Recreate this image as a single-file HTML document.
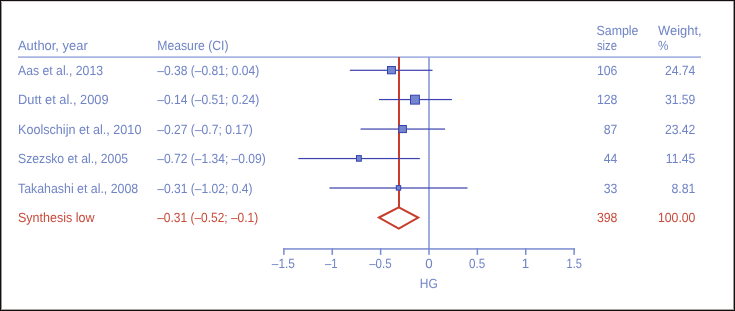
<!DOCTYPE html>
<html><head><meta charset="utf-8">
<style>
html,body{margin:0;padding:0;background:#fff;}
body{width:735px;height:311px;overflow:hidden;position:relative;}
svg{position:absolute;left:0;top:0;display:block;}
text{font-family:"Liberation Sans",Arial,sans-serif;font-size:13.3px;fill:#7084c6;text-rendering:geometricPrecision;}
text.r{fill:#c84b3b;}
</style></head>
<body>
<svg width="735" height="311" viewBox="0 0 735 311">
<rect x="0" y="0" width="735" height="311" fill="#fff"/>
<g shape-rendering="crispEdges">
<rect x="1" y="1" width="1" height="309" fill="#9a9797"/>
<rect x="0" y="1" width="735" height="1" fill="#d6d4d4"/>
<rect x="733" y="0" width="1" height="311" fill="#9c9898"/>
<rect x="0" y="309" width="735" height="1" fill="#a8a5a5"/>
<rect x="0" y="0" width="735" height="1" fill="#141010"/>
<rect x="0" y="0" width="1" height="311" fill="#141010"/>
<rect x="734" y="0" width="1" height="311" fill="#141010"/>
<rect x="0" y="310" width="735" height="1" fill="#141010"/>
</g>
<rect x="18" y="56.3" width="683" height="1.6" fill="#a2afe0"/>
<rect x="428.20" y="57" width="1.6" height="192" fill="#8799d6"/>
<rect x="398" y="57" width="2" height="150" fill="#ca3d2b"/>
<rect x="283.15" y="248.2" width="291.69" height="1.5" fill="#7a8cd0"/>
<g fill="#7a8cd0">
<rect x="283.15" y="248.2" width="1.5" height="6.7"/>
<rect x="331.52" y="248.2" width="1.5" height="6.7"/>
<rect x="379.88" y="248.2" width="1.5" height="6.7"/>
<rect x="428.25" y="248.2" width="1.5" height="6.7"/>
<rect x="476.62" y="248.2" width="1.5" height="6.7"/>
<rect x="524.98" y="248.2" width="1.5" height="6.7"/>
<rect x="573.35" y="248.2" width="1.5" height="6.7"/>
</g>
<g fill="#3b41ad">
<rect x="349.87" y="69.70" width="82.62" height="1.2"/>
<rect x="379.03" y="98.95" width="72.90" height="1.2"/>
<rect x="360.56" y="128.45" width="84.56" height="1.2"/>
<rect x="298.35" y="157.95" width="121.50" height="1.2"/>
<rect x="329.46" y="187.40" width="138.02" height="1.2"/>
</g>
<g fill="#7487ce" stroke="#3541b0" stroke-width="1">
<rect x="387.50" y="66.50" width="7.90" height="7.30"/>
<rect x="410.50" y="95.20" width="8.90" height="8.90"/>
<rect x="398.90" y="125.50" width="7.50" height="7.10"/>
<rect x="356.50" y="155.60" width="4.80" height="5.60"/>
<rect x="396.30" y="185.60" width="4.40" height="4.50"/>
</g>
<polygon points="379,217.5 398.8,207.4 418.2,217.5 398.8,228.5" fill="none" stroke="#c83c2c" stroke-width="2"/>
<text x="18" y="50" textLength="69.7" lengthAdjust="spacingAndGlyphs">Author, year</text>
<text x="157.2" y="50" textLength="71.4" lengthAdjust="spacingAndGlyphs">Measure (CI)</text>
<text x="596.5" y="35.3" textLength="42" lengthAdjust="spacingAndGlyphs">Sample</text>
<text x="597" y="49.5" textLength="20" lengthAdjust="spacingAndGlyphs">size</text>
<text x="658" y="35.3" textLength="43.6" lengthAdjust="spacingAndGlyphs">Weight,</text>
<text x="658" y="49.5" textLength="10.4" lengthAdjust="spacingAndGlyphs">%</text>
<text x="18" y="74.7" textLength="85" lengthAdjust="spacingAndGlyphs">Aas et al., 2013</text>
<text x="157.2" y="74.7" textLength="102.0" lengthAdjust="spacingAndGlyphs">–0.38 (–0.81; 0.04)</text>
<text x="617.4" y="74.7" text-anchor="end" textLength="20.5" lengthAdjust="spacingAndGlyphs">106</text>
<text x="695.4" y="74.7" text-anchor="end" textLength="30.5" lengthAdjust="spacingAndGlyphs">24.74</text>
<text x="18" y="104.1" textLength="90.6" lengthAdjust="spacingAndGlyphs">Dutt et al., 2009</text>
<text x="157.2" y="104.1" textLength="102.0" lengthAdjust="spacingAndGlyphs">–0.14 (–0.51; 0.24)</text>
<text x="617.4" y="104.1" text-anchor="end" textLength="20.5" lengthAdjust="spacingAndGlyphs">128</text>
<text x="695.4" y="104.1" text-anchor="end" textLength="30.5" lengthAdjust="spacingAndGlyphs">31.59</text>
<text x="18" y="133.5" textLength="123.4" lengthAdjust="spacingAndGlyphs">Koolschijn et al., 2010</text>
<text x="157.2" y="133.5" textLength="95.6" lengthAdjust="spacingAndGlyphs">–0.27 (–0.7; 0.17)</text>
<text x="617.4" y="133.5" text-anchor="end" textLength="13.6" lengthAdjust="spacingAndGlyphs">87</text>
<text x="695.4" y="133.5" text-anchor="end" textLength="30.5" lengthAdjust="spacingAndGlyphs">23.42</text>
<text x="18" y="163.0" textLength="110" lengthAdjust="spacingAndGlyphs">Szezsko et al., 2005</text>
<text x="157.2" y="163.0" textLength="108.6" lengthAdjust="spacingAndGlyphs">–0.72 (–1.34; –0.09)</text>
<text x="617.4" y="163.0" text-anchor="end" textLength="13.6" lengthAdjust="spacingAndGlyphs">44</text>
<text x="695.4" y="163.0" text-anchor="end" textLength="29.6" lengthAdjust="spacingAndGlyphs">11.45</text>
<text x="18" y="192.8" textLength="120.2" lengthAdjust="spacingAndGlyphs">Takahashi et al., 2008</text>
<text x="157.2" y="192.8" textLength="95.4" lengthAdjust="spacingAndGlyphs">–0.31 (–1.02; 0.4)</text>
<text x="617.4" y="192.8" text-anchor="end" textLength="13.6" lengthAdjust="spacingAndGlyphs">33</text>
<text x="695.4" y="192.8" text-anchor="end" textLength="24" lengthAdjust="spacingAndGlyphs">8.81</text>
<text x="18" y="221.6" textLength="76.6" lengthAdjust="spacingAndGlyphs" class="r">Synthesis low</text>
<text x="157.2" y="221.6" textLength="101" lengthAdjust="spacingAndGlyphs" class="r">–0.31 (–0.52; –0.1)</text>
<text x="617.4" y="221.6" text-anchor="end" textLength="20.5" lengthAdjust="spacingAndGlyphs" class="r">398</text>
<text x="695.4" y="221.6" text-anchor="end" textLength="37.4" lengthAdjust="spacingAndGlyphs" class="r">100.00</text>
<text x="283.4" y="268" text-anchor="middle" textLength="23.2" lengthAdjust="spacingAndGlyphs">–1.5</text>
<text x="331.3" y="268" text-anchor="middle" textLength="12.6" lengthAdjust="spacingAndGlyphs">–1</text>
<text x="380.4" y="268" text-anchor="middle" textLength="22.4" lengthAdjust="spacingAndGlyphs">–0.5</text>
<text x="429" y="268" text-anchor="middle">0</text>
<text x="477.1" y="268" text-anchor="middle" textLength="16.2" lengthAdjust="spacingAndGlyphs">0.5</text>
<text x="525.5" y="268" text-anchor="middle">1</text>
<text x="574.3" y="268" text-anchor="middle" textLength="15.4" lengthAdjust="spacingAndGlyphs">1.5</text>
<text x="428.8" y="287.8" text-anchor="middle" textLength="18" lengthAdjust="spacingAndGlyphs">HG</text>
</svg>
</body></html>
